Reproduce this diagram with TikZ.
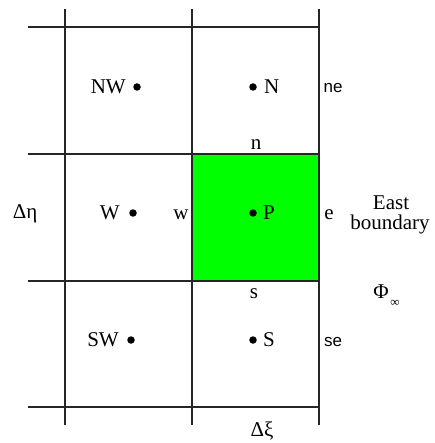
\documentclass[tikz,border=0pt]{standalone}
\usepackage{fontspec}
\setmainfont{Liberation Serif}
\newfontfamily\lsans{Liberation Sans}
\begin{document}
\begin{tikzpicture}[x=1pt,y=-1pt,
  gridline/.style={line width=1.2pt,draw=black!85},
  lbl/.style={inner sep=0pt,font=\fontsize{21}{24}\selectfont},
  slbl/.style={inner sep=0pt,font=\lsans\fontsize{17}{20}\selectfont},
  nodedot/.style={circle,fill=black,inner sep=0pt,minimum size=7.5pt}]
\useasboundingbox (0,0) rectangle (434,443);
\fill[white] (0,0) rectangle (434,443);
% control volume P
\fill[fill={rgb,255:red,0;green,255;blue,0}] (192,154) rectangle (319,281);
% grid lines
\foreach \x in {65,192,319} \draw[gridline] (\x,9) -- (\x,425);
\foreach \y in {27,154,281,407} \draw[gridline] (28,\y) -- (319,\y);
% nodes (dots)
\node[nodedot] (dNW) at (137,87) {};
\node[nodedot] (dN) at (253,87) {};
\node[nodedot] (dW) at (133,213) {};
\node[nodedot] (dP) at (253,213) {};
\node[nodedot] (dSW) at (131,340) {};
\node[nodedot] (dS) at (253,340) {};
% labels
\node[lbl,anchor=east] (NW) at (126,87) {NW};
\node[lbl,anchor=west] (N) at (264,87) {N};
\node[slbl] (ne) at (333,88) {ne};
\node[lbl] (n) at (256,145) {n};
\node[lbl,anchor=east] (W) at (120,213) {W};
\node[lbl] (w) at (181,215) {w};
\node[lbl,anchor=west] (P) at (263,213) {P};
\node[lbl] (e) at (329,215) {e};
\node[lbl] (deta) at (25,214) {Δη};
\node[lbl] (east) at (391,203) {East};
\node[lbl,anchor=base] (bnd) at (390,229) {boundary};
\node[lbl] (s) at (254,294) {s};
\node[lbl] (phi) at (381,292) {Φ};
\node[inner sep=0pt,font=\fontsize{13}{14}\selectfont] (inf) at (395,303) {∞};
\node[lbl,anchor=east] (SW) at (119,340) {SW};
\node[lbl,anchor=west] (S) at (263,340) {S};
\node[slbl] (se) at (333,342) {se};
\node[lbl] (dxi) at (262,431) {Δξ};
\end{tikzpicture}
\end{document}
